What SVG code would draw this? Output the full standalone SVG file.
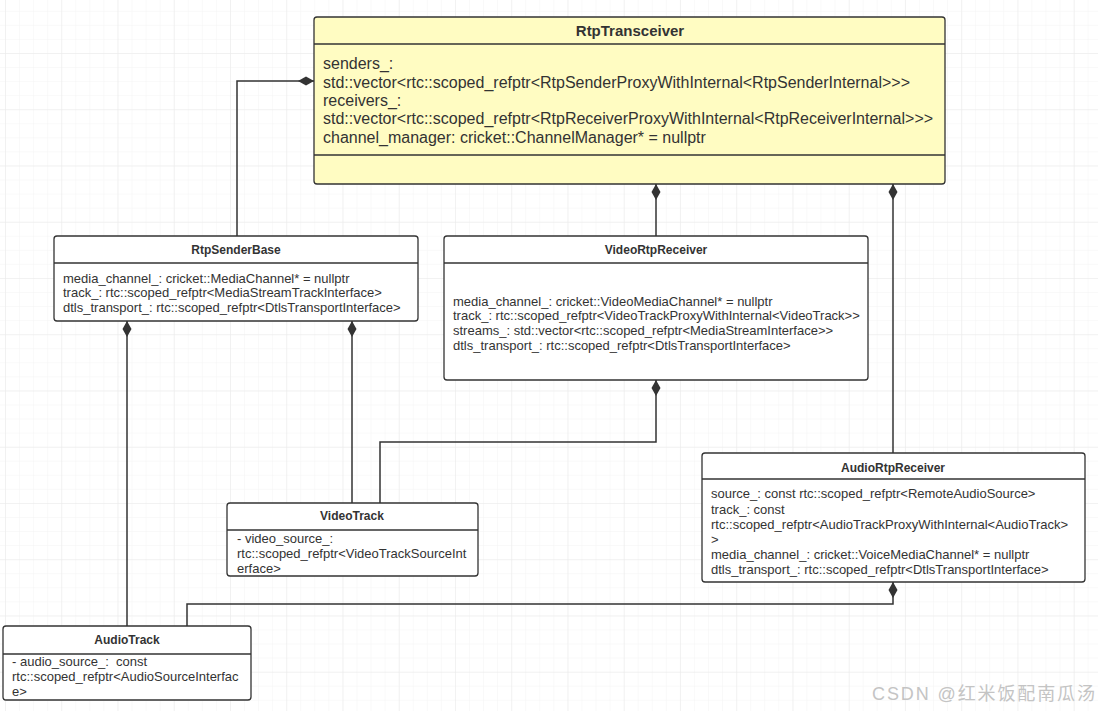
<svg xmlns="http://www.w3.org/2000/svg" width="1098" height="711" viewBox="0 0 1098 711">
<defs>
<pattern id="minor" x="5" y="-3.25" width="14.06" height="14.06" patternUnits="userSpaceOnUse">
<path d="M0,0 H14.06 M0,0 V14.06" fill="none" stroke="#f4f4f4" stroke-width="1"/>
</pattern>
<pattern id="major" x="5" y="-3.25" width="56.25" height="56.25" patternUnits="userSpaceOnUse">
<path d="M0,0 H56.25 M0,0 V56.25" fill="none" stroke="#eaeaea" stroke-width="1"/>
</pattern>
<marker id="diamond" markerUnits="userSpaceOnUse" markerWidth="17" markerHeight="10" refX="0" refY="4.5" orient="auto" viewBox="0 0 17 9">
<path d="M0,4.5 L8,0 L16,4.5 L8,9 Z" fill="#333333"/>
</marker>
</defs>
<style>
.box{fill:#ffffff;stroke:#333333;stroke-width:1.3}
.yellow{fill:#fffcc2}
.div{stroke:#333333;stroke-width:1.3}
.title{font-family:"Liberation Sans",Arial,sans-serif;font-weight:bold;fill:#333333;text-anchor:middle}
.attr{font-family:"Liberation Sans",Arial,sans-serif;fill:#333333;font-size:13px}
.big{font-size:16px}
.conn{fill:none;stroke:#333333;stroke-width:1.5;marker-start:url(#diamond)}
</style>
<rect width="1098" height="711" fill="#ffffff"/>
<rect width="1098" height="711" fill="url(#minor)"/>
<rect width="1098" height="711" fill="url(#major)"/>

<g id="connectors">
<path class="conn" d="M314,81 H237 V236"/>
<path class="conn" d="M656,184 V236"/>
<path class="conn" d="M893,184 V453"/>
<path class="conn" d="M127,321 V626"/>
<path class="conn" d="M352,321 V503"/>
<path class="conn" d="M656,380 V442 H380 V503"/>
<path class="conn" d="M893,582 V604 H187 V626"/>
</g>

<g id="RtpTransceiver">
<rect class="box yellow" x="314" y="17" width="631" height="167" rx="3"/>
<line class="div" x1="314" y1="44" x2="945" y2="44"/>
<line class="div" x1="314" y1="155" x2="945" y2="155"/>
<text class="title" x="630" y="36" font-size="15">RtpTransceiver</text>
<text class="attr big" x="323" y="68.5">senders_:</text>
<text class="attr big" x="323" y="87.5">std::vector&lt;rtc::scoped_refptr&lt;RtpSenderProxyWithInternal&lt;RtpSenderInternal&gt;&gt;&gt;</text>
<text class="attr big" x="323" y="105.5">receivers_:</text>
<text class="attr big" x="323" y="123.5">std::vector&lt;rtc::scoped_refptr&lt;RtpReceiverProxyWithInternal&lt;RtpReceiverInternal&gt;&gt;&gt;</text>
<text class="attr big" x="323" y="142.5">channel_manager: cricket::ChannelManager* = nullptr</text>
</g>

<g id="RtpSenderBase">
<rect class="box" x="54" y="236" width="364" height="85" rx="3"/>
<line class="div" x1="54" y1="263" x2="418" y2="263"/>
<text class="title" x="236" y="254" font-size="12">RtpSenderBase</text>
<text class="attr" x="63" y="282.5">media_channel_: cricket::MediaChannel* = nullptr</text>
<text class="attr" x="63" y="296.5">track_: rtc::scoped_refptr&lt;MediaStreamTrackInterface&gt;</text>
<text class="attr" x="63" y="311.5">dtls_transport_: rtc::scoped_refptr&lt;DtlsTransportInterface&gt;</text>
</g>

<g id="VideoRtpReceiver">
<rect class="box" x="444" y="236" width="424" height="144" rx="3"/>
<line class="div" x1="444" y1="263" x2="868" y2="263"/>
<text class="title" x="656" y="254" font-size="12">VideoRtpReceiver</text>
<text class="attr" x="453" y="305.5">media_channel_: cricket::VideoMediaChannel* = nullptr</text>
<text class="attr" x="453" y="319.5">track_: rtc::scoped_refptr&lt;VideoTrackProxyWithInternal&lt;VideoTrack&gt;&gt;</text>
<text class="attr" x="453" y="334.5">streams_: std::vector&lt;rtc::scoped_refptr&lt;MediaStreamInterface&gt;&gt;</text>
<text class="attr" x="453" y="349.5">dtls_transport_: rtc::scoped_refptr&lt;DtlsTransportInterface&gt;</text>
</g>

<g id="AudioRtpReceiver">
<rect class="box" x="702" y="453" width="383" height="129" rx="3"/>
<line class="div" x1="702" y1="479" x2="1085" y2="479"/>
<text class="title" x="893" y="472" font-size="12">AudioRtpReceiver</text>
<text class="attr" x="711" y="497.5">source_: const rtc::scoped_refptr&lt;RemoteAudioSource&gt;</text>
<text class="attr" x="711" y="513.5">track_: const</text>
<text class="attr" x="711" y="528.5">rtc::scoped_refptr&lt;AudioTrackProxyWithInternal&lt;AudioTrack&gt;</text>
<text class="attr" x="711" y="543.5">&gt;</text>
<text class="attr" x="711" y="558.5">media_channel_: cricket::VoiceMediaChannel* = nullptr</text>
<text class="attr" x="711" y="573.5">dtls_transport_: rtc::scoped_refptr&lt;DtlsTransportInterface&gt;</text>
</g>

<g id="VideoTrack">
<rect class="box" x="227" y="503" width="251" height="73" rx="3"/>
<line class="div" x1="227" y1="530" x2="478" y2="530"/>
<text class="title" x="352" y="520" font-size="12">VideoTrack</text>
<text class="attr" x="237" y="542.5">- video_source_:</text>
<text class="attr" x="237" y="557.5">rtc::scoped_refptr&lt;VideoTrackSourceInt</text>
<text class="attr" x="237" y="572.5">erface&gt;</text>
</g>

<g id="AudioTrack">
<rect class="box" x="3" y="626" width="248" height="74" rx="3"/>
<line class="div" x1="3" y1="654" x2="251" y2="654"/>
<text class="title" x="127" y="644" font-size="12">AudioTrack</text>
<text class="attr" x="12" y="666">- audio_source_:&#160; const</text>
<text class="attr" x="12" y="680.5">rtc::scoped_refptr&lt;AudioSourceInterfac</text>
<text class="attr" x="12" y="696">e&gt;</text>
</g>

<text x="872" y="700" font-family="'Liberation Sans','Noto Sans CJK SC',sans-serif" font-size="18" fill="#c4c4c4" textLength="223" lengthAdjust="spacing">CSDN @红米饭配南瓜汤</text>
</svg>
